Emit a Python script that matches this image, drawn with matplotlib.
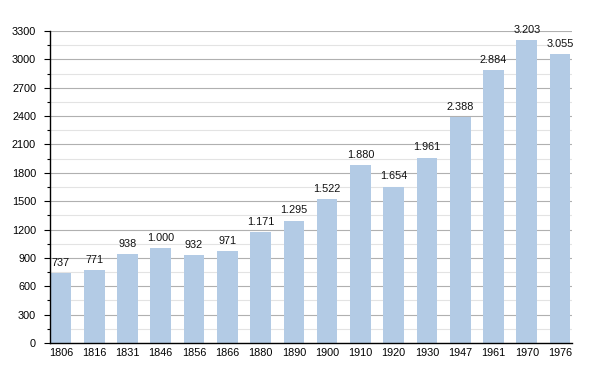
import matplotlib.pyplot as plt
from matplotlib.ticker import MultipleLocator

years = ['1806', '1816', '1831', '1846', '1856', '1866', '1880', '1890',
         '1900', '1910', '1920', '1930', '1947', '1961', '1970', '1976']
population = [737, 771, 938, 1000, 932, 971, 1171, 1295,
              1522, 1880, 1654, 1961, 2388, 2884, 3203, 3055]

plt.rcParams['font.family'] = ['Liberation Sans', 'DejaVu Sans']


def fmt(v):
    # thousands separator with a dot
    return f'{v:,}'.replace(',', '.')


def main():
    fig = plt.figure(figsize=(6, 3.73), dpi=100)
    ax = fig.add_axes([0.0833, 0.0804, 0.87, 0.8366])

    x = list(range(len(years)))
    ax.bar(x, population, width=0.62, color='#b3cbe5', zorder=3)
    for xi, v in zip(x, population):
        ax.text(xi, v + 55, fmt(v), ha='center', va='bottom', fontsize=7.8, color='#111111', zorder=4)

    ax.set_xlim(-0.33, 15.36)
    ax.set_ylim(0, 3300)
    ax.set_xticks(x)
    ax.set_xticklabels(years, fontsize=7.8)
    ax.tick_params(axis='x', length=0, pad=3.5)

    ax.yaxis.set_major_locator(MultipleLocator(300))
    ax.yaxis.set_minor_locator(MultipleLocator(150))
    ax.tick_params(axis='y', which='major', length=4, width=0.8, labelsize=7.8, pad=6)
    ax.tick_params(axis='y', which='minor', length=2.5, width=0.8)
    ax.grid(axis='y', which='major', color='#b0b0b0', linewidth=0.8, zorder=0)
    ax.grid(axis='y', which='minor', color='#e3e3e3', linewidth=0.8, zorder=0)

    for s in ['top', 'right']:
        ax.spines[s].set_visible(False)
    ax.spines['left'].set_linewidth(1.0)
    ax.spines['bottom'].set_linewidth(1.0)
    ax.spines['left'].set_zorder(5)
    ax.spines['bottom'].set_zorder(5)

    fig.savefig('out.png', dpi=100)


if __name__ == '__main__':
    main()
